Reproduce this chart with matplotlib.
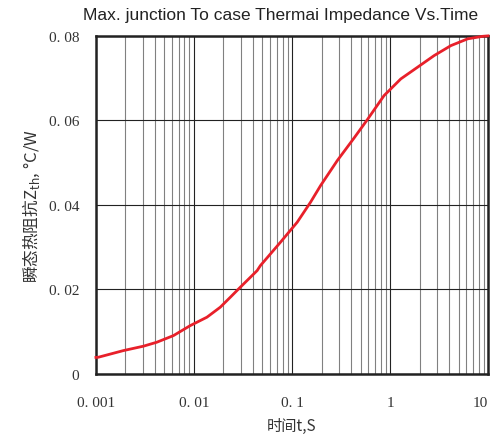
import numpy as np
import matplotlib.pyplot as plt
from matplotlib.ticker import FixedLocator, LogLocator, NullFormatter

# values
t = [0.001, 0.00106, 0.0019, 0.00305, 0.00418, 0.00618, 0.00916, 0.01356, 0.01856,
     0.0235, 0.0297, 0.0441, 0.0476, 0.0763, 0.113, 0.1546, 0.1957, 0.29, 0.4288,
     0.588, 0.869, 1.288, 1.91, 2.82, 4.18, 6.2, 8.83, 10.0]
zth = [0.0039, 0.00395, 0.00551, 0.00656, 0.0075, 0.00907, 0.01143, 0.01342, 0.01579,
       0.01815, 0.02052, 0.02445, 0.02563, 0.03117, 0.0359, 0.04064, 0.04457, 0.0505, 0.0558,
       0.0602, 0.06587, 0.06982, 0.07259, 0.07534, 0.0777, 0.0793, 0.0799, 0.0800]

xticks = [0.001, 0.01, 0.1, 1, 10]
xticklabels = ['0. 001', '0. 01', '0. 1', '1', '10']
yticks = [0, 0.02, 0.04, 0.06, 0.08]
yticklabels = ['0', '0. 02', '0. 04', '0. 06', '0. 08']

cjk = ['Noto Sans CJK SC', 'DejaVu Sans']
serif = ['Liberation Serif', 'DejaVu Serif']

fig = plt.figure(figsize=(4.92, 4.39), dpi=100)
ax = fig.add_axes([0.195, 0.146, 0.797, 0.770])

ax.set_xscale('log')
ax.set_xlim(0.001, 10)
ax.set_ylim(0, 0.08)

ax.xaxis.set_major_locator(FixedLocator(xticks))
ax.xaxis.set_minor_locator(LogLocator(base=10, subs=np.arange(2, 10)))
ax.xaxis.set_minor_formatter(NullFormatter())
ax.set_xticks(xticks)
ax.set_xticklabels(xticklabels, fontfamily=serif, fontsize=11, color='#333333')
ax.get_xticklabels()[-1].set_horizontalalignment('right')
ax.set_yticks(yticks)
ax.set_yticklabels(yticklabels, fontfamily=serif, fontsize=11, color='#333333')

ax.grid(which='major', axis='both', color='#222222', linewidth=0.8)
ax.grid(which='minor', axis='x', color='#808080', linewidth=0.8)
ax.tick_params(which='both', length=0)
ax.tick_params(axis='x', pad=16)
ax.tick_params(axis='y', pad=12)

for s in ax.spines.values():
    s.set_linewidth(1.8)
    s.set_color('#222222')

ax.plot(t, zth, color='#e8202a', linewidth=2, zorder=5, clip_on=False)

ax.set_title('Max. junction To case Thermai Impedance Vs.Time',
             fontfamily=['Liberation Sans', 'DejaVu Sans'], fontsize=12.5,
             color='#222222', x=0.472, pad=12)
ax.set_xlabel('时间t,S', fontfamily=cjk, fontsize=11, color='#333333', labelpad=6)
ax.set_ylabel('瞬态热阻抗Z$_{\\mathrm{th}}$, °C/W', fontfamily=cjk, fontsize=12,
              color='#333333', labelpad=5)

fig.savefig('out.png', dpi=100)
